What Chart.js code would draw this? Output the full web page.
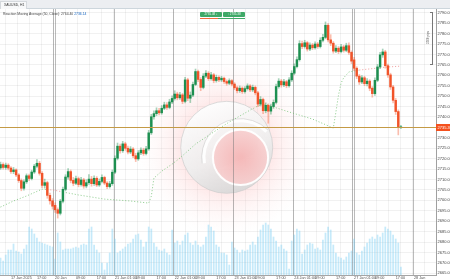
<!DOCTYPE html>
<html>
<head>
<meta charset="utf-8">
<script src="https://cdn.jsdelivr.net/npm/chart.js"></script>
<style>
  html, body { margin: 0; padding: 0; background: #fff; }
  #wrap { position: relative; width: 450px; height: 280px; overflow: hidden; font-family: "Liberation Sans", Arial, sans-serif; }
  #chart { position: absolute; left: 0; top: 0; }
  .strip { position: absolute; left: 0; top: 0; width: 450px; height: 8px; background: #eceef1; border-bottom: 1px solid #cdd6dc; }
  .tab { position: absolute; left: 0; top: 1px; width: 27px; height: 8px; box-sizing: border-box; background: #f8f9fa; border: 1px solid #d5d9dd; border-bottom: none; font-size: 3.4px; line-height: 6px; color: #333; padding-left: 3px; white-space: nowrap; }
  .legend { position: absolute; left: 3px; top: 12px; font-size: 3.4px; line-height: 4px; color: #444; white-space: nowrap; }
  .legend .last { color: #1565c0; }
  .btn { position: absolute; top: 11.5px; width: 22px; height: 5.5px; background: #3fa968; color: #fff; font-size: 3px; line-height: 5.5px; text-align: center; border-radius: 1px; white-space: nowrap; }
  .uline { position: absolute; top: 18px; height: 1px; }
  .ruler { position: absolute; left: 430px; top: 11.5px; width: 2.5px; height: 53px; box-sizing: border-box; border: 1px solid #777; border-left: none; }
  .ruler-text { position: absolute; left: 420px; top: 36px; width: 16px; font-size: 3px; line-height: 3px; color: #555; text-align: center; transform: rotate(-90deg); white-space: nowrap; }
</style>
</head>
<body>
<div id="wrap">
  <canvas id="chart" width="450" height="280"></canvas>
  <div class="strip"></div>
  <div class="tab">XAUUSD, H1</div>
  <div class="legend">Reaction Moving Average (50, Close): 2764.40 <span class="last">2736.14</span></div>
  <div class="btn" style="left:200px">2735.08 &#8595;</div>
  <div class="btn" style="left:223px">&#8593; 2735.38</div>
  <div class="uline" style="left:200px;width:18px;background:#f06a3c"></div>
  <div class="uline" style="left:218px;width:27px;background:#3fa968"></div>
  <div class="ruler"></div>
  <div class="ruler-text">2560 pips</div>
</div>
<script>
// XAUUSD H1, 17 Jan 2025 03:00 -> 27 Jan 2025 19:00 (one row per trading day)
const opens = [
  2715.6, 2717.2, 2715.8, 2716.9, 2715.5, 2713.8, 2714.6, 2712.2, 2709.5, 2705.8, 2708.9, 2711.8, 2710.5, 2713.6, 2716.4, 2717.8, 2713.0, 2707.2, 2708.5, 2702.4, 2699.8,
  2697.6, 2695.5, 2693.8, 2699.6, 2705.3, 2711.2, 2713.8, 2709.6, 2708.2, 2710.4, 2707.6, 2709.8, 2706.9, 2708.5, 2710.2, 2708.0, 2710.6, 2707.4, 2709.1, 2711.0, 2708.3, 2706.6, 2708.0,
  2713.5, 2720.2, 2726.0, 2723.8, 2727.1, 2725.0, 2723.2, 2724.6, 2721.4, 2719.9, 2722.8, 2724.1, 2722.5, 2724.7, 2732.4, 2740.1, 2741.6, 2743.0, 2742.0, 2744.2, 2745.8, 2744.6, 2747.2,
  2748.9, 2751.0, 2749.2, 2750.6, 2747.5, 2757.8, 2749.0, 2750.5, 2755.6, 2761.8, 2758.0, 2754.2, 2759.6, 2761.0, 2758.4, 2760.2, 2757.5, 2759.0, 2757.8, 2758.6, 2757.0, 2756.2, 2757.4,
  2755.8, 2754.0, 2752.6, 2753.8, 2752.2, 2753.6, 2754.9, 2753.0, 2754.2, 2751.6, 2746.2, 2748.4, 2743.0, 2745.6, 2742.8, 2745.0, 2747.0, 2754.6, 2757.2, 2755.4, 2756.9, 2755.0, 2757.8,
  2761.0, 2764.2, 2767.5, 2775.2, 2773.8, 2775.6, 2772.6, 2774.5, 2773.2, 2775.0, 2773.8, 2776.8, 2778.2, 2784.0, 2777.0, 2775.4, 2771.6, 2773.0, 2771.4, 2773.6, 2772.0, 2774.2, 2771.0,
  2767.4, 2763.4, 2759.6, 2756.8, 2758.8, 2756.0, 2757.2, 2753.8, 2751.2, 2757.6, 2764.0, 2769.8, 2771.2, 2764.6, 2760.2, 2754.4, 2748.0, 2742.6, 2734.9
];
const highs = [
  2718.4, 2718.0, 2717.9, 2717.6, 2716.2, 2715.8, 2715.1, 2712.9, 2710.3, 2709.8, 2712.7, 2712.6, 2714.5, 2717.3, 2719.6, 2718.7, 2713.8, 2710.2, 2709.2, 2703.5, 2700.9,
  2698.8, 2696.4, 2700.5, 2706.4, 2712.3, 2715.2, 2714.6, 2711.0, 2711.6, 2711.2, 2711.0, 2710.6, 2709.9, 2712.4, 2711.5, 2711.8, 2711.4, 2710.3, 2712.2, 2711.6, 2709.0, 2709.1, 2714.6,
  2721.4, 2727.5, 2727.0, 2728.3, 2727.9, 2726.1, 2725.8, 2725.3, 2722.6, 2723.9, 2725.2, 2725.0, 2725.9, 2733.6, 2741.3, 2743.0, 2744.4, 2744.1, 2745.5, 2747.1, 2746.9, 2748.5, 2750.2,
  2752.6, 2751.9, 2751.8, 2751.3, 2759.0, 2758.6, 2752.0, 2756.8, 2763.0, 2762.5, 2758.9, 2760.8, 2762.3, 2761.8, 2761.4, 2760.9, 2760.1, 2759.8, 2759.5, 2759.2, 2757.8, 2758.3, 2758.0,
  2756.5, 2754.8, 2754.9, 2754.5, 2754.6, 2755.9, 2755.6, 2755.3, 2754.9, 2752.3, 2749.8, 2749.1, 2746.8, 2746.3, 2746.2, 2748.2, 2755.8, 2758.4, 2758.0, 2758.1, 2757.6, 2758.9, 2762.2,
  2765.5, 2768.8, 2776.6, 2776.4, 2776.8, 2776.2, 2775.6, 2775.3, 2776.1, 2775.8, 2778.0, 2779.6, 2785.6, 2784.8, 2779.5, 2776.2, 2774.3, 2773.8, 2774.8, 2774.4, 2775.4, 2775.6, 2771.7,
  2768.6, 2764.1, 2760.4, 2759.9, 2759.5, 2758.4, 2757.9, 2754.6, 2758.8, 2765.2, 2771.0, 2772.6, 2772.0, 2765.4, 2761.0, 2755.2, 2748.9, 2743.4, 2736.0
];
const lows = [
  2714.8, 2715.0, 2714.9, 2714.6, 2712.9, 2712.8, 2711.4, 2708.6, 2704.6, 2704.9, 2708.1, 2709.4, 2709.8, 2712.9, 2715.6, 2712.1, 2706.1, 2705.9, 2701.0, 2698.2, 2695.8,
  2694.2, 2691.5, 2693.0, 2698.8, 2704.6, 2710.2, 2708.4, 2707.0, 2707.5, 2706.5, 2706.8, 2705.8, 2706.0, 2707.6, 2706.8, 2707.2, 2706.6, 2706.7, 2708.4, 2707.5, 2705.6, 2705.9, 2707.2,
  2712.8, 2719.4, 2722.6, 2723.0, 2724.0, 2722.3, 2722.4, 2720.5, 2718.6, 2719.2, 2721.9, 2721.6, 2721.8, 2724.0, 2731.6, 2739.0, 2740.6, 2741.0, 2741.3, 2743.5, 2743.6, 2743.9, 2746.4,
  2748.1, 2748.2, 2748.4, 2746.4, 2746.8, 2747.8, 2746.9, 2749.8, 2755.0, 2756.9, 2752.6, 2753.5, 2758.8, 2757.5, 2757.6, 2756.4, 2756.7, 2756.9, 2757.0, 2756.1, 2755.2, 2755.5, 2754.9,
  2753.1, 2751.5, 2751.8, 2751.3, 2751.4, 2752.9, 2752.1, 2752.2, 2750.6, 2745.0, 2745.3, 2741.6, 2742.0, 2737.0, 2741.4, 2744.1, 2746.3, 2753.8, 2754.3, 2754.6, 2754.0, 2754.3, 2757.0,
  2760.2, 2763.5, 2766.8, 2772.8, 2773.0, 2771.6, 2771.8, 2772.3, 2772.5, 2772.9, 2773.1, 2776.0, 2777.5, 2776.0, 2774.2, 2770.6, 2770.8, 2770.4, 2770.7, 2771.1, 2771.3, 2770.0, 2765.6,
  2762.2, 2758.4, 2755.6, 2756.0, 2755.0, 2754.9, 2752.6, 2749.5, 2750.4, 2756.9, 2763.2, 2768.6, 2763.4, 2759.0, 2753.2, 2746.8, 2741.2, 2731.4, 2734.4
];
const closes = [
  2717.2, 2715.8, 2716.9, 2715.5, 2713.8, 2714.6, 2712.2, 2709.5, 2705.8, 2708.9, 2711.8, 2710.5, 2713.6, 2716.4, 2717.8, 2713.0, 2707.2, 2708.5, 2702.4, 2699.8, 2697.2,
  2695.5, 2693.8, 2699.6, 2705.3, 2711.2, 2713.8, 2709.6, 2708.2, 2710.4, 2707.6, 2709.8, 2706.9, 2708.5, 2710.2, 2708.0, 2710.6, 2707.4, 2709.1, 2711.0, 2708.3, 2706.6, 2708.0, 2713.5,
  2720.2, 2726.0, 2723.8, 2727.1, 2725.0, 2723.2, 2724.6, 2721.4, 2719.9, 2722.8, 2724.1, 2722.5, 2724.7, 2732.4, 2740.1, 2741.6, 2743.0, 2742.0, 2744.2, 2745.8, 2744.6, 2747.2, 2748.9,
  2751.0, 2749.2, 2750.6, 2747.5, 2757.8, 2749.0, 2750.5, 2755.6, 2761.8, 2758.0, 2754.2, 2759.6, 2761.0, 2758.4, 2760.2, 2757.5, 2759.0, 2757.8, 2758.6, 2757.0, 2756.2, 2757.4, 2755.8,
  2754.0, 2752.6, 2753.8, 2752.2, 2753.6, 2754.9, 2753.0, 2754.2, 2751.6, 2746.2, 2748.4, 2743.0, 2745.6, 2742.8, 2745.0, 2747.0, 2754.6, 2757.2, 2755.4, 2756.9, 2755.0, 2757.8, 2761.0,
  2764.2, 2767.5, 2775.2, 2773.8, 2775.6, 2772.6, 2774.5, 2773.2, 2775.0, 2773.8, 2776.8, 2778.2, 2784.0, 2777.0, 2775.4, 2771.6, 2773.0, 2771.4, 2773.6, 2772.0, 2774.2, 2771.0, 2766.8,
  2763.4, 2759.6, 2756.8, 2758.8, 2756.0, 2757.2, 2753.8, 2751.2, 2757.6, 2764.0, 2769.8, 2771.2, 2764.6, 2760.2, 2754.4, 2748.0, 2742.6, 2734.9, 2735.3
];
// tick volume (x100)
const volumes = [
  17, 14, 20, 25, 25, 31, 24, 23, 21, 26, 30, 48, 46, 41, 37, 33, 32, 31, 30, 29, 28,
  16, 42, 33, 25, 26, 26, 26, 27, 28, 27, 30, 31, 30, 46, 48, 30, 25, 22, 12, 5, 12, 22, 46,
  36, 22, 24, 26, 28, 31, 32, 36, 40, 41, 35, 28, 33, 48, 46, 32, 28, 25, 24, 26, 22, 20, 45,
  32, 34, 30, 34, 40, 42, 32, 30, 34, 30, 28, 30, 38, 50, 48, 44, 30, 28, 22, 22, 20, 10, 33,
  27, 25, 22, 25, 24, 25, 30, 33, 30, 38, 45, 50, 52, 50, 46, 38, 34, 28, 30, 26, 24, 6, 34,
  40, 46, 44, 21, 25, 30, 32, 31, 26, 27, 25, 35, 42, 48, 45, 30, 22, 18, 17, 15, 18, 22, 24,
  36, 22, 20, 24, 28, 32, 36, 38, 36, 40, 38, 42, 48, 46, 44, 40, 36, 32, 8
];

// Reaction moving average, read at these candle indices; g = rising (green), p = falling (pink)
const maIdx = [0, 5, 10, 16, 18, 21, 24, 30, 40, 50, 57, 58, 59, 62, 66, 69, 75, 82, 88, 96, 99, 102, 105, 111, 120, 128, 129, 130, 131, 132, 134, 138, 143, 148, 154];
const maVals = [2696.8, 2699.7, 2702.1, 2705.4, 2705.2, 2704.8, 2704.0, 2702.6, 2700.6, 2699.7, 2698.7, 2702.0, 2710.7, 2714.0, 2717.4, 2720.3, 2727.0, 2732.8, 2737.6, 2743.3, 2745.3, 2746.2, 2744.8, 2742.4, 2739.0, 2734.7, 2742.4, 2750.5, 2756.3, 2758.8, 2761.6, 2762.5, 2763.2, 2763.9, 2764.4];
const maColor = ['g', 'g', 'g', 'g', 'p', 'p', 'g', 'g', 'g', 'g', 'g', 'g', 'g', 'g', 'g', 'g', 'g', 'g', 'g', 'g', 'g', 'g', 'g', 'g', 'g', 'g', 'g', 'g', 'g', 'g', 'g', 'p', 'p', 'p', 'p'];

// day breaks (between candles), weekends drawn doubled
const dayBreaks = [20.5, 43.5, 66.5, 89.5, 112.5, 135.5, 158.5];
const weekendBreaks = [20.5, 135.5];

const priceTicks = [2665, 2670, 2675, 2680, 2685, 2690, 2695, 2700, 2705, 2710, 2715, 2720, 2725, 2730, 2735, 2740, 2745, 2750, 2755, 2760, 2765, 2770, 2775, 2780, 2785, 2790];
const timeTickIdx = [4, 14, 21, 29, 37, 44, 52, 60, 67, 75, 83, 90, 98, 106, 113, 121, 129, 136, 144, 152, 159];
const timeTickText = ['17 Jan 2025', '17:00', '20 Jan', '09:00', '17:00', '21 Jan 01:00', '09:00', '17:00', '22 Jan 01:00', '09:00', '17:00',
  '23 Jan 01:00', '09:00', '17:00', '24 Jan 01:00', '09:00', '17:00', '27 Jan 01:00', '09:00', '17:00', '28 Jan'];

const FONT = '"Liberation Sans", Arial, sans-serif';
const UP = '#1d8f50';
const DOWN = '#f1542a';
const UP_WICK = 'rgba(29,143,80,0.4)';
const DOWN_WICK = 'rgba(241,84,42,0.38)';
const MA_GREEN = 'rgba(110,190,110,0.8)';
const MA_PINK = 'rgba(236,140,140,0.85)';
const VOL = 'rgba(120,205,242,0.42)';
const PRICE_LINE = '#c49a45';
const X_MIN = -0.2;
const X_MAX = 167.5;

const candleIdx = closes.map((_, i) => i);
const isUp = (i) => closes[i] >= opens[i];
const lastClose = closes[closes.length - 1];

function drawLogo(ctx, cx, cy, r) {
  ctx.save();
  // pink haze behind the badge
  const glow = ctx.createRadialGradient(cx, cy, r * 0.6, cx, cy, r * 1.95);
  glow.addColorStop(0, 'rgba(250,170,170,0.5)');
  glow.addColorStop(0.45, 'rgba(252,205,205,0.28)');
  glow.addColorStop(1, 'rgba(255,235,235,0)');
  ctx.fillStyle = glow;
  ctx.beginPath();
  ctx.arc(cx, cy, r * 1.95, 0, Math.PI * 2);
  ctx.fill();

  // pale silver disc
  const ring = ctx.createLinearGradient(cx - r * 0.5, cy - r, cx + r * 0.3, cy + r);
  ring.addColorStop(0, 'rgba(255,255,255,0.96)');
  ring.addColorStop(0.6, 'rgba(238,238,238,0.92)');
  ring.addColorStop(1, 'rgba(214,214,214,0.9)');
  ctx.fillStyle = ring;
  ctx.beginPath();
  ctx.arc(cx, cy, r, 0, Math.PI * 2);
  ctx.fill();
  ctx.strokeStyle = 'rgba(205,205,205,0.7)';
  ctx.lineWidth = 1;
  ctx.stroke();

  // pink core
  const kx = cx + r * 0.3;
  const ky = cy + r * 0.22;
  const core = ctx.createRadialGradient(kx, ky, 2, kx, ky, r * 0.6);
  core.addColorStop(0, 'rgba(247,178,178,0.85)');
  core.addColorStop(1, 'rgba(248,205,205,0.85)');
  ctx.fillStyle = core;
  ctx.beginPath();
  ctx.arc(kx, ky, r * 0.6, 0, Math.PI * 2);
  ctx.fill();
  ctx.strokeStyle = 'rgba(255,255,255,0.95)';
  ctx.lineWidth = 2;
  ctx.stroke();

  // white hook over the core
  ctx.strokeStyle = 'rgba(255,255,255,0.95)';
  ctx.lineWidth = 3.5;
  ctx.beginPath();
  ctx.arc(kx, ky, r * 0.8, Math.PI * 0.95, Math.PI * 1.75);
  ctx.stroke();
  ctx.strokeStyle = 'rgba(200,200,200,0.55)';
  ctx.lineWidth = 1;
  ctx.beginPath();
  ctx.arc(kx, ky, r * 0.8 + 2, Math.PI * 0.95, Math.PI * 1.75);
  ctx.stroke();
  ctx.restore();
}

const backdrop = {
  id: 'backdrop',
  beforeDatasetsDraw(chart) {
    const { ctx, chartArea: a, scales: { x } } = chart;
    ctx.save();
    ctx.beginPath();
    ctx.rect(a.left, a.top, a.width, a.height);
    ctx.clip();
    drawLogo(ctx, a.left + a.width * 0.52, a.top + a.height * 0.52, 46);

    ctx.strokeStyle = 'rgba(120,120,120,0.5)';
    ctx.lineWidth = 1;
    dayBreaks.forEach((v) => {
      const px = Math.round(x.getPixelForValue(v)) + 0.5;
      const offs = weekendBreaks.includes(v) ? [-1, 1] : [0];
      offs.forEach((o) => {
        ctx.beginPath();
        ctx.moveTo(px + o, a.top);
        ctx.lineTo(px + o, a.bottom);
        ctx.stroke();
      });
    });
    ctx.restore();
  },
  afterDatasetsDraw(chart) {
    const { ctx, chartArea: a, scales: { y } } = chart;
    const py = Math.round(y.getPixelForValue(lastClose)) + 0.5;
    ctx.save();
    ctx.strokeStyle = PRICE_LINE;
    ctx.lineWidth = 1;
    ctx.beginPath();
    ctx.moveTo(a.left, py);
    ctx.lineTo(a.right, py);
    ctx.stroke();
    ctx.restore();
  },
  afterDraw(chart) {
    const { ctx, chartArea: a, scales: { y } } = chart;
    const py = Math.round(y.getPixelForValue(lastClose)) + 0.5;
    ctx.save();
    ctx.fillStyle = '#f4511e';
    ctx.fillRect(a.right, py - 3.5, 450 - a.right, 7);
    ctx.fillStyle = '#fff';
    ctx.font = '4px ' + FONT;
    ctx.textBaseline = 'middle';
    ctx.fillText(lastClose.toFixed(2), a.right + 1.5, py);
    ctx.restore();
  }
};

new Chart(document.getElementById('chart'), {
  type: 'bar',
  data: {
    datasets: [
      {
        label: 'Body',
        data: candleIdx.map((i) => ({ x: i, y: [opens[i], closes[i]] })),
        backgroundColor: (c) => (isUp(c.dataIndex) ? UP : DOWN),
        barThickness: 1.8,
        minBarLength: 0.8,
        grouped: false,
        xAxisID: 'x',
        yAxisID: 'y',
        order: 1
      },
      {
        label: 'Wick',
        data: candleIdx.map((i) => ({ x: i, y: [lows[i], highs[i]] })),
        backgroundColor: (c) => (isUp(c.dataIndex) ? UP_WICK : DOWN_WICK),
        barThickness: 1,
        grouped: false,
        xAxisID: 'x',
        yAxisID: 'y',
        order: 2
      },
      {
        type: 'line',
        label: 'Reaction Moving Average',
        data: maIdx.map((v, k) => ({ x: v, y: maVals[k] })),
        borderColor: MA_GREEN,
        borderWidth: 1,
        borderDash: [1, 2],
        pointRadius: 0,
        segment: {
          borderColor: (c) => (maColor[c.p0DataIndex] === 'p' ? MA_PINK : MA_GREEN)
        },
        xAxisID: 'x',
        yAxisID: 'y',
        order: 3
      },
      {
        label: 'Volume',
        data: candleIdx.map((i) => ({ x: i, y: volumes[i] })),
        backgroundColor: VOL,
        barThickness: 1.1,
        grouped: false,
        xAxisID: 'x',
        yAxisID: 'yv',
        order: 4
      }
    ]
  },
  options: {
    responsive: false,
    animation: false,
    devicePixelRatio: 1,
    layout: { padding: { top: 9, left: 0, right: 0, bottom: 0 } },
    plugins: { legend: { display: false }, tooltip: { enabled: false } },
    events: [],
    scales: {
      x: {
        type: 'linear',
        min: X_MIN,
        max: X_MAX,
        offset: false,
        afterBuildTicks: (s) => {
          const t = [];
          for (let v = dayBreaks[0] - 4.6 * 4; v <= X_MAX; v += 4.6) t.push({ value: v });
          s.ticks = t;
        },
        afterFit: (s) => { s.height = 0; },
        ticks: { display: false },
        grid: { color: 'rgba(0,0,0,0.05)', drawTicks: false, offset: false },
        border: { color: '#a5a5a5' }
      },
      xl: {
        type: 'linear',
        position: 'bottom',
        min: X_MIN,
        max: X_MAX,
        offset: false,
        afterBuildTicks: (s) => { s.ticks = timeTickIdx.map((v) => ({ value: v })); },
        afterFit: (s) => { s.height = 5; },
        ticks: {
          autoSkip: false,
          maxRotation: 0,
          align: 'start',
          padding: 0.8,
          color: '#555',
          font: { size: 3.8, family: FONT },
          callback: (v, i) => timeTickText[i]
        },
        grid: { display: false, drawTicks: false },
        border: { display: false }
      },
      y: {
        position: 'right',
        min: 2664.2,
        max: 2791.8,
        afterBuildTicks: (s) => { s.ticks = priceTicks.map((v) => ({ value: v })); },
        afterFit: (s) => { s.width = 14; },
        ticks: {
          padding: 1.5,
          color: '#444',
          font: { size: 4, family: FONT },
          callback: (v) => Number(v).toFixed(2)
        },
        grid: { color: 'rgba(0,0,0,0.055)', drawTicks: false },
        border: { color: '#a0a0a0' }
      },
      yv: { display: false, min: 0, max: 266 }
    }
  },
  plugins: [backdrop]
});
</script>
</body>
</html>
